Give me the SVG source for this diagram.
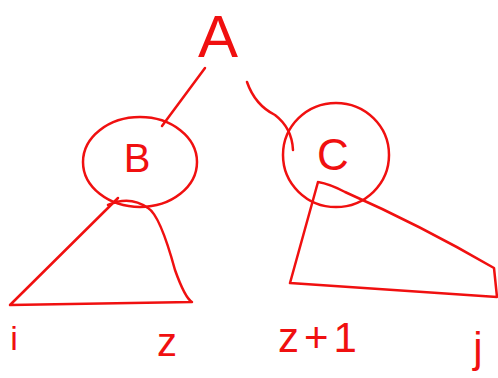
<svg xmlns="http://www.w3.org/2000/svg" width="498" height="378" viewBox="0 0 498 378">
<style>
.s{fill:none;stroke:#f01010;stroke-width:2.5;stroke-linecap:round;stroke-linejoin:round}
.t{fill:#f01010;font-family:"Liberation Sans",sans-serif}
</style>
<rect width="498" height="378" fill="#ffffff"/>
<g id="connectors">
<path class="s" d="M205 68 L162 126"/>
<path class="s" d="M247 82 Q255 105 275 115 Q292 128 293 150"/>
<path class="s" d="M118 198 L10 305 L192 302 Q185 298 175 270 Q160 215 148 208 Q130 195 108 205"/>
<path class="s" d="M318 182 L290 283 L497 297 L494 268 Q420 225 345 192 Q330 184 318 182"/>
</g>
<g id="A"><text class="t" x="218" y="57" font-size="60" text-anchor="middle">A</text></g>
<g id="B">
<ellipse class="s" cx="140" cy="162" rx="57" ry="45"/>
<text class="t" x="137" y="172" font-size="40" text-anchor="middle">B</text>
</g>
<g id="C">
<ellipse class="s" cx="336" cy="155" rx="53" ry="52"/>
<text class="t" x="333" y="170" font-size="44" text-anchor="middle">C</text>
</g>
<g id="labels">
<text class="t" x="14" y="350" font-size="34" text-anchor="middle">i</text>
<text class="t" x="167" y="356" font-size="40" text-anchor="middle">z</text>
<text class="t" x="320" y="352" font-size="42" letter-spacing="5" text-anchor="middle">z+1</text>
<text class="t" x="478" y="362" font-size="42" text-anchor="middle">j</text>
</g>
</svg>
